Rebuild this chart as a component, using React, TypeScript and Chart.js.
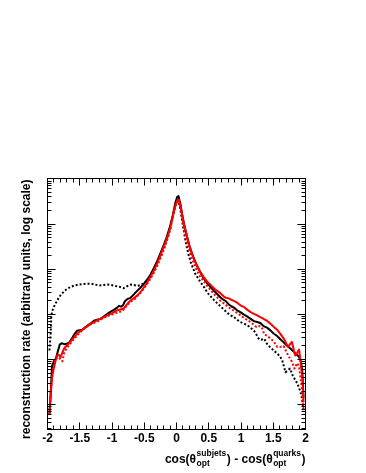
import React, { useEffect, useRef } from "react";
import { Chart, registerables } from "chart.js";

Chart.register(...registerables);

// Each point: [cos(θ_subjets) - cos(θ_quarks), log10(reconstruction rate)]
const blackSolid: [number, number][] = [
  [-1.97, -0.2], [-1.95, 0.25], [-1.93, 0.85], [-1.9, 0.97], [-1.87, 1.02], [-1.84, 1.18], [-1.81, 1.33],
  [-1.78, 1.36], [-1.74, 1.34], [-1.7, 1.35], [-1.66, 1.38], [-1.62, 1.47], [-1.58, 1.57], [-1.54, 1.64],
  [-1.5, 1.65], [-1.46, 1.66], [-1.42, 1.71], [-1.38, 1.75], [-1.33, 1.8], [-1.28, 1.86], [-1.23, 1.88],
  [-1.18, 1.9], [-1.13, 1.95], [-1.07, 2.01], [-1.02, 2.06], [-0.97, 2.1], [-0.92, 2.15], [-0.89, 2.19],
  [-0.86, 2.17], [-0.83, 2.2], [-0.8, 2.29], [-0.76, 2.34], [-0.72, 2.36], [-0.69, 2.4], [-0.65, 2.46],
  [-0.61, 2.52], [-0.56, 2.59], [-0.51, 2.67], [-0.45, 2.78], [-0.4, 2.89], [-0.35, 3.03], [-0.3, 3.18],
  [-0.25, 3.35], [-0.2, 3.53], [-0.15, 3.72], [-0.1, 3.95], [-0.06, 4.18], [-0.02, 4.46], [0.01, 4.6],
  [0.03, 4.62], [0.06, 4.45], [0.09, 4.2], [0.12, 3.98], [0.16, 3.74], [0.2, 3.52], [0.24, 3.35],
  [0.28, 3.2], [0.32, 3.07], [0.37, 2.93], [0.42, 2.8], [0.47, 2.7], [0.53, 2.6], [0.58, 2.52],
  [0.63, 2.45], [0.68, 2.38], [0.72, 2.33], [0.76, 2.3], [0.81, 2.22], [0.85, 2.18], [0.89, 2.15],
  [0.94, 2.09], [0.99, 2.05], [1.04, 2.0], [1.1, 1.95], [1.15, 1.9], [1.2, 1.85], [1.25, 1.83],
  [1.3, 1.81], [1.35, 1.74], [1.41, 1.7], [1.46, 1.64], [1.51, 1.57], [1.56, 1.52], [1.61, 1.45],
  [1.66, 1.38], [1.72, 1.3], [1.77, 1.24], [1.82, 1.17], [1.87, 1.1], [1.9, 1.06], [1.93, 0.95],
  [1.95, 0.75], [1.97, 0.15],
];

const blackDotted: [number, number][] = [
  [-1.97, 1.2], [-1.95, 1.6], [-1.94, 1.98], [-1.92, 2.1], [-1.9, 2.17], [-1.85, 2.31], [-1.8, 2.42],
  [-1.75, 2.5], [-1.7, 2.56], [-1.64, 2.61], [-1.58, 2.64], [-1.52, 2.66], [-1.46, 2.67], [-1.4, 2.68],
  [-1.33, 2.68], [-1.26, 2.66], [-1.2, 2.64], [-1.13, 2.65], [-1.07, 2.66], [-1.01, 2.65], [-0.95, 2.63],
  [-0.88, 2.61], [-0.82, 2.58], [-0.77, 2.62], [-0.71, 2.66], [-0.66, 2.65], [-0.61, 2.63], [-0.56, 2.65],
  [-0.51, 2.68], [-0.45, 2.74], [-0.4, 2.83], [-0.35, 2.96], [-0.3, 3.12], [-0.25, 3.28], [-0.2, 3.45],
  [-0.15, 3.64], [-0.1, 3.88], [-0.05, 4.2], [-0.01, 4.45], [0.02, 4.52], [0.05, 4.41], [0.09, 4.05],
  [0.14, 3.62], [0.18, 3.36], [0.22, 3.16], [0.29, 2.9], [0.37, 2.72], [0.43, 2.6], [0.48, 2.48],
  [0.53, 2.4], [0.58, 2.32], [0.63, 2.25], [0.68, 2.18], [0.74, 2.1], [0.79, 2.03], [0.84, 1.98],
  [0.89, 1.94], [0.94, 1.88], [0.99, 1.83], [1.04, 1.8], [1.1, 1.76], [1.15, 1.7], [1.2, 1.64],
  [1.24, 1.55], [1.28, 1.45], [1.32, 1.44], [1.36, 1.46], [1.41, 1.33], [1.46, 1.26], [1.51, 1.2],
  [1.56, 1.13], [1.6, 1.08], [1.64, 0.98], [1.69, 0.72], [1.72, 0.75], [1.76, 0.8], [1.8, 0.65],
  [1.84, 0.55], [1.88, 0.45], [1.91, 0.33], [1.94, 0.2], [1.97, -0.15],
];

const redSolid: [number, number][] = [
  [-1.97, -0.22], [-1.95, 0.2], [-1.93, 0.6], [-1.9, 0.82], [-1.87, 1.0], [-1.85, 1.09], [-1.82, 1.1],
  [-1.8, 1.05], [-1.77, 1.15], [-1.74, 1.25], [-1.7, 1.31], [-1.64, 1.4], [-1.59, 1.49], [-1.54, 1.57],
  [-1.49, 1.63], [-1.44, 1.68], [-1.38, 1.74], [-1.33, 1.79], [-1.28, 1.83], [-1.23, 1.87], [-1.18, 1.9],
  [-1.13, 1.94], [-1.07, 1.98], [-1.02, 2.01], [-0.97, 2.05], [-0.92, 2.09], [-0.87, 2.11], [-0.82, 2.13],
  [-0.78, 2.2], [-0.74, 2.27], [-0.7, 2.32], [-0.66, 2.36], [-0.61, 2.42], [-0.56, 2.49], [-0.51, 2.59],
  [-0.45, 2.72], [-0.4, 2.84], [-0.35, 2.97], [-0.3, 3.13], [-0.25, 3.31], [-0.2, 3.49], [-0.14, 3.71],
  [-0.1, 3.9], [-0.07, 4.08], [-0.04, 4.28], [-0.01, 4.44], [0.02, 4.54], [0.04, 4.53], [0.07, 4.34],
  [0.1, 4.1], [0.12, 3.97], [0.16, 3.74], [0.19, 3.56], [0.23, 3.38], [0.27, 3.23], [0.32, 3.07],
  [0.37, 2.94], [0.42, 2.83], [0.48, 2.72], [0.53, 2.65], [0.58, 2.58], [0.63, 2.52], [0.68, 2.47],
  [0.73, 2.4], [0.76, 2.37], [0.8, 2.36], [0.84, 2.33], [0.89, 2.3], [0.94, 2.26], [0.99, 2.2],
  [1.05, 2.16], [1.1, 2.1], [1.15, 2.05], [1.2, 2.01], [1.25, 1.98], [1.3, 1.94], [1.35, 1.9],
  [1.41, 1.85], [1.46, 1.79], [1.51, 1.72], [1.56, 1.66], [1.61, 1.57], [1.66, 1.47], [1.7, 1.36],
  [1.73, 1.28], [1.76, 1.34], [1.79, 1.39], [1.82, 1.2], [1.84, 1.09], [1.87, 1.15], [1.9, 1.22],
  [1.92, 1.0], [1.95, 0.63], [1.97, 0.05],
];

const redDotted: [number, number][] = [
  [-1.97, -0.2], [-1.95, 0.3], [-1.92, 0.75], [-1.89, 0.95], [-1.85, 1.06], [-1.81, 1.02], [-1.77, 0.96],
  [-1.74, 1.15], [-1.7, 1.26], [-1.66, 1.32], [-1.62, 1.4], [-1.56, 1.5], [-1.49, 1.61], [-1.43, 1.69],
  [-1.36, 1.76], [-1.3, 1.8], [-1.23, 1.84], [-1.17, 1.89], [-1.1, 1.94], [-1.04, 1.98], [-0.97, 2.01],
  [-0.9, 2.05], [-0.84, 2.07], [-0.79, 2.16], [-0.74, 2.24], [-0.69, 2.3], [-0.64, 2.35], [-0.59, 2.43],
  [-0.54, 2.51], [-0.48, 2.62], [-0.43, 2.73], [-0.37, 2.87], [-0.32, 3.01], [-0.27, 3.17], [-0.22, 3.34],
  [-0.18, 3.5], [-0.14, 3.68], [-0.1, 3.88], [-0.07, 4.1], [-0.03, 4.35], [0.0, 4.48], [0.03, 4.52],
  [0.06, 4.38], [0.09, 4.12], [0.11, 3.93], [0.15, 3.66], [0.19, 3.45], [0.23, 3.27], [0.27, 3.12],
  [0.32, 2.96], [0.37, 2.83], [0.43, 2.72], [0.48, 2.62], [0.53, 2.54], [0.58, 2.45], [0.63, 2.38],
  [0.68, 2.3], [0.73, 2.25], [0.79, 2.18], [0.84, 2.12], [0.89, 2.08], [0.94, 2.03], [0.99, 1.98],
  [1.05, 1.92], [1.1, 1.87], [1.15, 1.83], [1.2, 1.77], [1.24, 1.72], [1.28, 1.74], [1.32, 1.72],
  [1.36, 1.56], [1.41, 1.52], [1.46, 1.46], [1.51, 1.4], [1.56, 1.28], [1.61, 1.28], [1.66, 1.3],
  [1.7, 1.18], [1.74, 1.07], [1.79, 0.95], [1.83, 0.8], [1.87, 0.92], [1.9, 0.85], [1.93, 0.5],
  [1.95, 0.3], [1.97, -0.15],
];

const xTickValues = [-2, -1.5, -1, -0.5, 0, 0.5, 1, 1.5, 2];
const xTickLabels = ["-2", "-1.5", "-1", "-0.5", "0", "0.5", "1", "1.5", "2"];
const xMin = -2;
const xMax = 2;
const yMinLog = -0.55;
const yMaxLog = 5.01;
const yTitle = "reconstruction rate (arbitrary units, log scale)";
const xTitleParts = [
  { text: "cos(θ" },
  { sup: "subjets", sub: "opt" },
  { text: ") - cos(θ" },
  { sup: "quarks", sub: "opt" },
  { text: ")" },
];

const FONT = '"Liberation Sans", Arial, Helvetica, sans-serif';

const rootFramePlugin = {
  id: "rootFrame",
  afterDatasetsDraw(chart: any) {
    const { ctx, chartArea, scales } = chart;
    const { left, right, top, bottom } = chartArea;
    const xs = scales.x;
    const ys = scales.y;
    const snap = (p: number) => Math.round(p - 0.5) + 0.5;
    ctx.save();
    ctx.strokeStyle = "#000";
    ctx.lineWidth = 1;
    ctx.setLineDash([]);
    ctx.strokeRect(left, top, right - left, bottom - top);

    ctx.beginPath();
    // x ticks, minor every 0.1, major every 0.5
    for (let i = -20; i <= 20; i++) {
      const v = i / 10;
      const px = snap(xs.getPixelForValue(v));
      const len = i % 5 === 0 ? 7 : 4;
      ctx.moveTo(px, bottom);
      ctx.lineTo(px, bottom - len);
      ctx.moveTo(px, top);
      ctx.lineTo(px, top + len);
    }
    // y ticks: decades and 2..9 subdivisions
    const yMinV = Math.pow(10, yMinLog);
    const yMaxV = Math.pow(10, yMaxLog);
    for (let d = -1; d <= 5; d++) {
      for (let m = 1; m <= 9; m++) {
        const v = m * Math.pow(10, d);
        if (v < yMinV || v > yMaxV) continue;
        const py = snap(ys.getPixelForValue(v));
        const len = m === 1 ? 8 : 4;
        ctx.moveTo(left, py);
        ctx.lineTo(left + len, py);
        ctx.moveTo(right, py);
        ctx.lineTo(right - len, py);
      }
    }
    ctx.stroke();

    // x tick labels
    ctx.fillStyle = "#000";
    ctx.font = `bold 12px ${FONT}`;
    ctx.textAlign = "center";
    ctx.textBaseline = "alphabetic";
    xTickValues.forEach((v, i) => {
      ctx.fillText(xTickLabels[i], xs.getPixelForValue(v), bottom + 12);
    });

    // y title (rotated, aligned to top of axis)
    ctx.save();
    ctx.translate(30, top + 1);
    ctx.rotate(-Math.PI / 2);
    ctx.textAlign = "right";
    ctx.textBaseline = "alphabetic";
    ctx.font = `bold 12px ${FONT}`;
    ctx.fillText(yTitle, 0, 0);
    ctx.restore();

    // x title with super/subscripts, right aligned to axis end
    const mainFont = `bold 12px ${FONT}`;
    const smallFont = `bold 8.5px ${FONT}`;
    const baseY = bottom + 33;
    const widths = xTitleParts.map((p: any) => {
      if (p.text) {
        ctx.font = mainFont;
        return ctx.measureText(p.text).width;
      }
      ctx.font = smallFont;
      return Math.max(ctx.measureText(p.sup).width, ctx.measureText(p.sub).width) + 1;
    });
    const total = widths.reduce((a: number, b: number) => a + b, 0);
    let cx = right - total;
    ctx.textAlign = "left";
    xTitleParts.forEach((p: any, i: number) => {
      if (p.text) {
        ctx.font = mainFont;
        ctx.fillText(p.text, cx, baseY);
      } else {
        ctx.font = smallFont;
        ctx.fillText(p.sup, cx + 0.5, baseY - 6.5);
        ctx.fillText(p.sub, cx + 0.5, baseY + 3.5);
      }
      cx += widths[i];
    });
    ctx.restore();
  },
};

const toPoints = (s: [number, number][]) => s.map(([x, l]) => ({ x, y: Math.pow(10, l) }));

export default function App() {
  const canvasRef = useRef<HTMLCanvasElement | null>(null);

  useEffect(() => {
    const canvas = canvasRef.current;
    if (!canvas) return;
    const chart = new Chart(canvas, {
      type: "line",
      data: {
        datasets: [
          {
            label: "red dotted",
            data: toPoints(redDotted),
            borderColor: "#ff0000",
            borderWidth: 2,
            borderDash: [2, 2],
          },
          {
            label: "red solid",
            data: toPoints(redSolid),
            borderColor: "#ff0000",
            borderWidth: 2,
          },
          {
            label: "black solid",
            data: toPoints(blackSolid),
            borderColor: "#000000",
            borderWidth: 2,
          },
          {
            label: "black dotted",
            data: toPoints(blackDotted),
            borderColor: "#000000",
            borderWidth: 2,
            borderDash: [2, 2],
          },
        ],
      },
      options: {
        animation: false,
        responsive: false,
        devicePixelRatio: 1,
        events: [],
        layout: { padding: { left: 47.5, right: 60.5, top: 178.5, bottom: 43.5 } },
        elements: { point: { radius: 0 }, line: { tension: 0, fill: false, borderJoinStyle: "round" } },
        plugins: { legend: { display: false }, tooltip: { enabled: false }, title: { display: false } },
        scales: {
          x: { type: "linear", min: xMin, max: xMax, display: false },
          y: { type: "logarithmic", min: Math.pow(10, yMinLog), max: Math.pow(10, yMaxLog), display: false },
        },
      },
      plugins: [rootFramePlugin],
    } as any);
    return () => chart.destroy();
  }, []);

  return (
    <div style={{ position: "absolute", left: 0, top: 0, width: 366, height: 473, background: "#fff" }}>
      <canvas ref={canvasRef} width={366} height={473} style={{ display: "block", width: 366, height: 473 }} />
    </div>
  );
}
